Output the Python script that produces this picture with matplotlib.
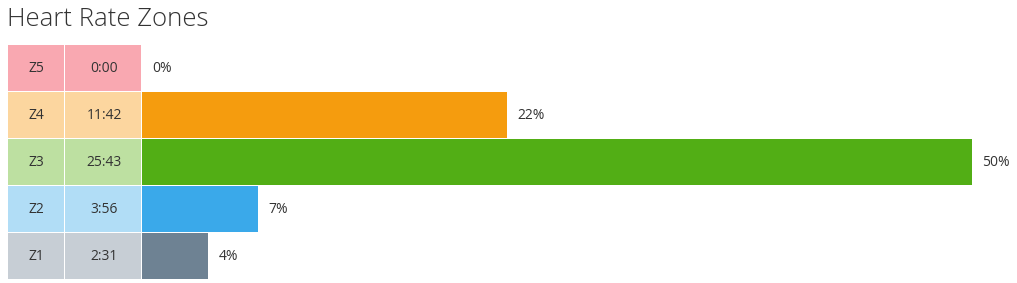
"""Heart rate zone breakdown: zone / time table with percentage bars."""
import matplotlib
matplotlib.use("Agg")
import matplotlib.pyplot as plt
from matplotlib.patches import Rectangle

plt.rcParams["font.family"] = ["Open Sans", "DejaVu Sans"]

ZONES = ["Z5", "Z4", "Z3", "Z2", "Z1"]
TIMES = ["0:00", "11:42", "25:43", "3:56", "2:31"]
PERCENTS = [0, 22, 50, 7, 4]
CELL_COLORS = ["#f9a8b1", "#fcd69f", "#bde0a1", "#b1ddf6", "#c7ced5"]
BAR_COLORS = ["#f2707e", "#f59c0e", "#52ae15", "#3aa9ea", "#6e8293"]
TEXT_COLOR = "#333333"

W, H = 1017, 283
fig = plt.figure(figsize=(W / 100, H / 100), dpi=100)
fig.patch.set_facecolor("white")

top_px, bot_px = 45, 280
n = len(ZONES)

# table cells (Z column + time column)
tab = fig.add_axes([8 / W, 1 - bot_px / H, (142 - 8) / W, (bot_px - top_px) / H])
tab.set_xlim(8, 142)
tab.set_ylim(n, 0)
tab.axis("off")
for i, (z, t, c) in enumerate(zip(ZONES, TIMES, CELL_COLORS)):
    tab.add_patch(Rectangle((8, i), 56, 0.98, facecolor=c, edgecolor="none"))
    tab.add_patch(Rectangle((65, i), 76, 0.98, facecolor=c, edgecolor="none"))
    tab.text(36, i + 0.49, z, ha="center", va="center", fontsize=10, color=TEXT_COLOR)
    tab.text(104, i + 0.49, t, ha="center", va="center", fontsize=10, color=TEXT_COLOR)

# percentage bars
ax = fig.add_axes([142 / W, 1 - bot_px / H, (972 - 142) / W, (bot_px - top_px) / H])
ax.set_xlim(0, 50)
ax.set_ylim(n, 0)
ax.axis("off")
ypos = [i + 0.49 for i in range(n)]
ax.barh(ypos, PERCENTS, height=0.98, color=BAR_COLORS, edgecolor="none")
for y, p in zip(ypos, PERCENTS):
    ax.text(p + 0.6, y, f"{p}%", ha="left", va="center", fontsize=10,
            color=TEXT_COLOR, clip_on=False)

fig.text(7 / W, 1 - 20 / H, "Heart Rate Zones", ha="left", va="center",
         fontsize=18.5, fontweight="light", color=TEXT_COLOR)

fig.savefig("out.png", dpi=100, facecolor="white")
